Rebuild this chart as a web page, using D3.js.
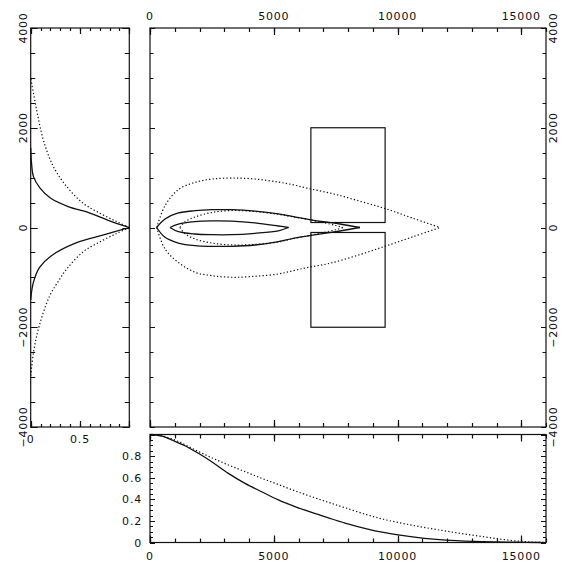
<!DOCTYPE html>
<html>
<head>
<meta charset="utf-8">
<script src="https://cdn.jsdelivr.net/npm/d3@7"></script>
<style>
body { margin: 0; background: #fff; }
.lbl { font-family: "DejaVu Sans", sans-serif; font-size: 11px; fill: #111; letter-spacing: 0.8px; }
</style>
</head>
<body>
<div id="chart"></div>
<script>
//tick labels
var mainXLabels = [0, 5000, 10000, 15000];
var mainYLabels = [4000, 2000, 0, -2000, -4000];
var leftXLabels = [0, 0.5];
var botYLabels = [0, 0.2, 0.4, 0.6, 0.8];

//main panel: two boxes [x0, x1, y0, y1]
var boxes = [[6500, 9500, 100, 2000], [6500, 9500, -2000, -100]];

//main panel contours [x, y], upper and lower halves
var outerDotUpper = [[270,0],[606,435],[1145,760],[1818,905],[2492,970],[3301,992],[4242,972],[5185,910],[5791,855],[6330,790],[7400,675],[8500,525],[9562,370],[10600,190],[11717,0]];
var outerDotLower = [[270,0],[606,-431],[1145,-700],[1818,-898],[2492,-966],[3301,-998],[4242,-978],[5185,-932],[5791,-865],[6330,-805],[7273,-717],[8500,-540],[9562,-365],[10600,-190],[11717,0]];
var outerSolidUpper = [[270,0],[606,170],[1145,291],[1818,337],[2492,357],[3301,357],[4242,330],[5185,275],[5791,220],[6505,155],[7677,70],[8485,0]];
var outerSolidLower = [[270,0],[606,-197],[1145,-311],[1818,-365],[2492,-378],[3301,-378],[4242,-351],[5185,-284],[5791,-217],[6505,-160],[7677,-70],[8485,0]];
var innerSolidUpper = [[808,0],[1145,70],[1818,118],[2492,132],[3301,128],[4242,92],[5185,30],[5600,0]];
var innerSolidLower = [[808,0],[1145,-84],[1818,-130],[2492,-144],[3301,-144],[4242,-116],[5185,-66],[5600,0]];
var innerDotUpper = [[1210,0],[1400,110],[1818,210],[2492,300],[3300,340],[4242,320],[5185,265],[5800,210],[6500,150],[7000,100],[7500,40],[7800,0]];
var innerDotLower = [[1210,0],[1400,-120],[1818,-230],[2492,-311],[3300,-350],[4242,-340],[5185,-290],[5800,-220],[6500,-155],[7000,-100],[7500,-45],[7800,0]];

//left panel profiles [y, value]
var leftSolidUpper = [[0,1],[150,0.78],[290,0.6],[420,0.38],[590,0.2],[790,0.095],[1020,0.028],[1300,0.008],[1600,0]];
var leftSolidLower = [[0,1],[-150,0.74],[-310,0.46],[-580,0.2],[-800,0.09],[-1110,0.026],[-1450,0]];
var leftDotUpper = [[0,1],[120,0.87],[288,0.7],[489,0.53],[821,0.365],[1222,0.23],[1757,0.128],[2359,0.06],[3000,0]];
var leftDotLower = [[0,1],[-120,0.87],[-290,0.7],[-490,0.53],[-820,0.37],[-1048,0.29],[-1383,0.19],[-1984,0.085],[-2485,0.03],[-2986,0]];

//bottom panel [x, value]
var botSolid = [[0,1],[500,0.985],[875,0.95],[1414,0.896],[1953,0.826],[2492,0.748],[3165,0.64],[3838,0.548],[4512,0.47],[5185,0.395],[5858,0.333],[6532,0.278],[7205,0.228],[7879,0.18],[8754,0.127],[9427,0.094],[10101,0.069],[10774,0.048],[11448,0.032],[12121,0.02],[13468,0.008],[14815,0.003],[15800,0]];
var botDot = [[0,1],[606,0.98],[1145,0.935],[1818,0.858],[2492,0.785],[3165,0.718],[3838,0.656],[4512,0.594],[5185,0.537],[5858,0.478],[6532,0.424],[7205,0.372],[7879,0.322],[8754,0.258],[9427,0.215],[10101,0.182],[10774,0.152],[11448,0.125],[12121,0.1],[12795,0.076],[13468,0.054],[14141,0.032],[14815,0.014],[15488,0.003],[16000,0]];

var ink = "#111";
var svg = d3.select("#chart").append("svg").attr("width", 570).attr("height", 570);

//scales
var xMain = d3.scaleLinear().domain([0, 16000]).range([150, 546]);
var yMain = d3.scaleLinear().domain([-4000, 4000]).range([427, 28]);
var xLeft = d3.scaleLinear().domain([0, 1]).range([30.7, 129.3]);
var yBot = d3.scaleLinear().domain([0, 1]).range([542.5, 434.5]);

function fmt(v){
    return v < 0 ? "\u2212" + (-v) : "" + v;
}

//inward ticks along one edge, as one path; dir is +1/-1 pointing into the panel
function edgeTicks(scale, vals, len, horiz, pos, dir){
    var p = d3.path();
    vals.forEach(function(v){
        var s = Math.round(scale(v)) + 0.5;
        if (horiz){ p.moveTo(s, pos); p.lineTo(s, pos + dir * len); }
        else { p.moveTo(pos, s); p.lineTo(pos + dir * len, s); }
    });
    svg.append("path").attr("d", p.toString()).attr("fill", "none")
        .attr("stroke", ink).attr("stroke-width", 1.2);
}

//frame + ticks for a panel
function panel(xs, ys, xMinor, xMajor, yMinor, yMajor, xt, yt){
    var x0 = xs.range()[0], x1 = xs.range()[1], y0 = ys.range()[1], y1 = ys.range()[0];
    edgeTicks(xs, xMinor, xt[0], true, y1, -1);
    edgeTicks(xs, xMajor, xt[1], true, y1, -1);
    edgeTicks(xs, xMinor, xt[0], true, y0, 1);
    edgeTicks(xs, xMajor, xt[1], true, y0, 1);
    edgeTicks(ys, yMinor, yt[0], false, x0, 1);
    edgeTicks(ys, yMajor, yt[1], false, x0, 1);
    edgeTicks(ys, yMinor, yt[0], false, x1, -1);
    edgeTicks(ys, yMajor, yt[1], false, x1, -1);
    svg.append("rect").attr("x", x0).attr("y", y0).attr("width", x1 - x0).attr("height", y1 - y0)
        .attr("fill", "none").attr("stroke", ink).attr("stroke-width", 1.2);
}

var yMinorV = d3.range(-4000, 4001, 500), yMajorV = d3.range(-4000, 4001, 2000);
var xMinorV = d3.range(0, 16001, 1000), xMajorV = d3.range(0, 16001, 5000);

panel(xMain, yMain, xMinorV, xMajorV, yMinorV, yMajorV, [4, 7], [3.5, 5]);
panel(xLeft, yMain, d3.range(0, 1.001, 0.1), [0, 0.5, 1], yMinorV, yMajorV, [3, 6], [4.5, 7]);
panel(xMain, yBot, xMinorV, xMajorV, d3.range(0, 1.001, 0.05), [0, 0.2, 0.4, 0.6, 0.8, 1], [4, 7], [3, 5]);

//boxes in main panel
svg.selectAll(".box").data(boxes).enter().append("rect").attr("class", "box")
    .attr("x", function(d){ return xMain(d[0]); })
    .attr("y", function(d){ return yMain(d[3]); })
    .attr("width", function(d){ return xMain(d[1]) - xMain(d[0]); })
    .attr("height", function(d){ return yMain(d[2]) - yMain(d[3]); })
    .attr("fill", "none").attr("stroke", ink).attr("stroke-width", 1.2);

//curves
var mainLine = d3.line().x(function(d){ return xMain(d[0]); }).y(function(d){ return yMain(d[1]); })
    .curve(d3.curveCatmullRom.alpha(0.5));
var leftLine = d3.line().x(function(d){ return xLeft(d[1]); }).y(function(d){ return yMain(d[0]); })
    .curve(d3.curveCatmullRom.alpha(0.5));
var botLine = d3.line().x(function(d){ return xMain(d[0]); }).y(function(d){ return yBot(d[1]); })
    .curve(d3.curveCatmullRom.alpha(0.5));

function draw(gen, data, dotted){
    svg.append("path").attr("d", gen(data)).attr("fill", "none")
        .attr("stroke", ink).attr("stroke-width", dotted ? 1.2 : 1.3)
        .attr("stroke-dasharray", dotted ? "1.3,2.2" : null);
}

draw(mainLine, outerDotUpper, true);
draw(mainLine, outerDotLower, true);
draw(mainLine, innerDotUpper, true);
draw(mainLine, innerDotLower, true);
draw(mainLine, outerSolidUpper, false);
draw(mainLine, outerSolidLower, false);
draw(mainLine, innerSolidUpper, false);
draw(mainLine, innerSolidLower, false);

draw(leftLine, leftDotUpper, true);
draw(leftLine, leftDotLower, true);
draw(leftLine, leftSolidUpper, false);
draw(leftLine, leftSolidLower, false);

draw(botLine, botDot, true);
draw(botLine, botSolid, false);

//labels
function labels(cls, data){
    return svg.selectAll("." + cls).data(data).enter().append("text")
        .attr("class", "lbl " + cls).text(fmt);
}
labels("tx", mainXLabels).attr("x", function(d){ return xMain(d); }).attr("y", 20).attr("text-anchor", "middle");
labels("bx", mainXLabels).attr("x", function(d){ return xMain(d); }).attr("y", 560).attr("text-anchor", "middle");
labels("ry", mainYLabels).attr("transform", function(d){ return "translate(557," + yMain(d) + ") rotate(-90)"; })
    .attr("text-anchor", "middle");
labels("ly", mainYLabels).attr("transform", function(d){ return "translate(27," + yMain(d) + ") rotate(-90)"; })
    .attr("text-anchor", "middle");
labels("lx", leftXLabels).attr("x", function(d){ return xLeft(d); }).attr("y", 443).attr("text-anchor", "middle");
labels("by", botYLabels).attr("x", 142).attr("y", function(d){ return yBot(d) + 4; }).attr("text-anchor", "end");
</script>
</body>
</html>
